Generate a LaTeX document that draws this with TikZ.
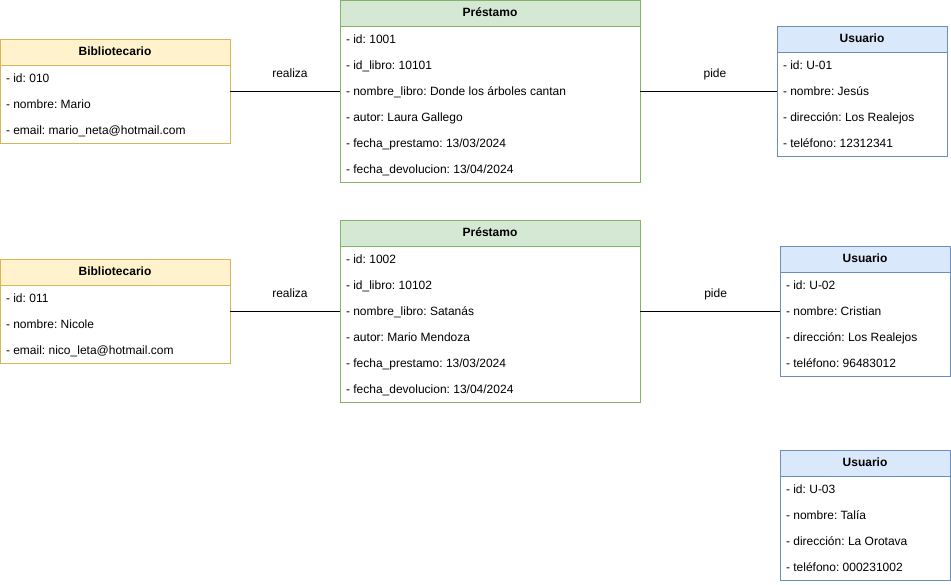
\documentclass[tikz,border=0pt]{standalone}
\usepackage{fontspec}
\setmainfont{Liberation Sans}
\usetikzlibrary{calc}
\frenchspacing
\definecolor{bibfill}{HTML}{FFF2CC}
\definecolor{bibstroke}{HTML}{D6B656}
\definecolor{prefill}{HTML}{D5E8D4}
\definecolor{prestroke}{HTML}{82B366}
\definecolor{usufill}{HTML}{DAE8FC}
\definecolor{usustroke}{HTML}{6C8EBF}
\tikzset{
  base/.style={line width=1pt, inner sep=0pt, outer sep=0pt, rectangle},
  headfont/.style={font=\fontsize{12}{14}\selectfont\bfseries\frenchspacing, text height=6.8pt, text depth=0pt},
  bibhead/.style={base, headfont, draw=bibstroke, fill=bibfill, minimum height=26pt},
  prehead/.style={base, headfont, draw=prestroke, fill=prefill, minimum height=26pt},
  usuhead/.style={base, headfont, draw=usustroke, fill=usufill, minimum height=26pt},
  bibbody/.style={base, draw=bibstroke, fill=white},
  prebody/.style={base, draw=prestroke, fill=white},
  usubody/.style={base, draw=usustroke, fill=white},
  rowtext/.style={inner sep=0pt, outer sep=0pt, font=\fontsize{12}{14}\selectfont\frenchspacing, text height=8.6pt, text depth=0pt, anchor=west},
  conn/.style={line width=1pt, draw=black},
  connlabel/.style={inner sep=0pt, font=\fontsize{12}{14}\selectfont, text height=8.6pt, text depth=0pt, yshift=18pt},
}
% #1 name, #2 x, #3 y, #4 width, #5 kind, #6 title, #7 number of rows, #8 rows
\newcommand\umltable[8]{%
  \node[#5body, minimum width=#4pt, minimum height={(26+26*#7)*1pt}, anchor=north west] (#1) at (#2,#3) {};
  \node[#5head, minimum width=#4pt, anchor=north west] (#1h) at (#2,#3) {#6};
  \foreach \t [count=\i] in {#8} {
    \node[rowtext] (#1r\i) at ({#2+6},{#3+13+26*\i}) {\t};
  }
}
\begin{document}
\begin{tikzpicture}[x=1pt, y=-1pt]
\useasboundingbox (0,0) rectangle (951,584);

% Row 1
\umltable{bib1}{0}{39}{230}{bib}{Bibliotecario}{3}{- id: 010, - nombre: Mario, - email: mario\_neta@hotmail.com}
\umltable{pre1}{340}{0}{300}{pre}{Préstamo}{6}{- id: 1001, - id\_libro: 10101, - nombre\_libro: Donde los árboles cantan, - autor: Laura Gallego, - fecha\_prestamo: 13/03/2024, - fecha\_devolucion: 13/04/2024}
\umltable{usu1}{777}{26}{170}{usu}{Usuario}{4}{- id: U-01, - nombre: Jesús, - dirección: Los Realejos, - teléfono: 12312341}

% Row 2
\umltable{bib2}{0}{259}{230}{bib}{Bibliotecario}{3}{- id: 011, - nombre: Nicole, - email: nico\_leta@hotmail.com}
\umltable{pre2}{340}{220}{300}{pre}{Préstamo}{6}{- id: 1002, - id\_libro: 10102, - nombre\_libro: Satanás, - autor: Mario Mendoza, - fecha\_prestamo: 13/03/2024, - fecha\_devolucion: 13/04/2024}
\umltable{usu2}{780}{246}{170}{usu}{Usuario}{4}{- id: U-02, - nombre: Cristian, - dirección: Los Realejos, - teléfono: 96483012}

% Row 3
\umltable{usu3}{780}{450}{170}{usu}{Usuario}{4}{- id: U-03, - nombre: Talía, - dirección: La Orotava, - teléfono: 000231002}

% Connectors
\draw[conn] (bib1.east) -- node[connlabel, pos=0.545] (l1) {realiza} (pre1.west);
\draw[conn] (pre1.east) -- node[connlabel, pos=0.547] (l2) {pide} (usu1.west);
\draw[conn] (bib2.east) -- node[connlabel, pos=0.545] (l3) {realiza} (pre2.west);
\draw[conn] (pre2.east) -- node[connlabel, pos=0.54] (l4) {pide} (usu2.west);
\end{tikzpicture}
\end{document}
